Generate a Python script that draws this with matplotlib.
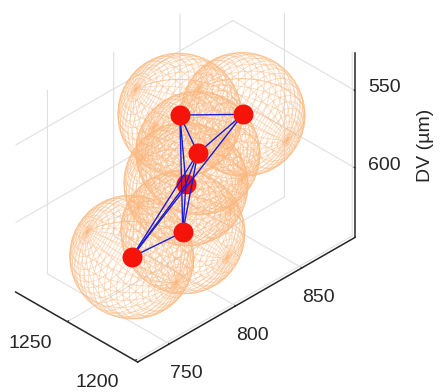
import numpy as np
import matplotlib
matplotlib.use("Agg")
import matplotlib.pyplot as plt

plt.rcParams["font.family"] = ["Liberation Sans", "DejaVu Sans"]

# centres of the spheres, um
x_pos = [1255, 1240, 1245, 1240, 1230, 1245]
y_pos = [816.2, 848.4, 819.5, 805.4, 792.8, 769.6]
z_pos = [558.3, 566.1, 579.5, 590.1, 609.9, 622.2]
radius = 32.8

# which points are joined
links = [(0, 1), (0, 2), (0, 3), (0, 4), (1, 2), (1, 5),
         (2, 3), (2, 4), (2, 5), (3, 4), (3, 5), (4, 5)]

x_ticks = [1200, 1250]
y_ticks = [750, 800, 850]
z_ticks = [550, 600]

fig = plt.figure(figsize=(4.41, 3.92), dpi=100)
ax = fig.add_axes([-16 / 441, 18 / 392, 392 / 441, 1], projection="3d", computed_zorder=False)
ax.set_proj_type("ortho")
ax.set_xlim(1288, 1198)
ax.set_ylim(726, 890)
ax.set_zlim(645, 526)
ax.set_box_aspect((172.5, 307, 224.6), zoom=1.035)
ax.view_init(elev=35, azim=-45)

# wire spheres, poles along x
phi = np.linspace(0, np.pi, 31)
theta = np.linspace(0, 2 * np.pi, 31)
phi, theta = np.meshgrid(phi, theta)
for cx, cy, cz in zip(x_pos, y_pos, z_pos):
    sx = cx + radius * np.cos(phi)
    sy = cy + radius * np.sin(phi) * np.cos(theta)
    sz = cz + radius * np.sin(phi) * np.sin(theta)
    ax.plot_wireframe(sx, sy, sz, color="#fbb77c", linewidth=0.6, alpha=0.5, zorder=2)

# one dot sits under the lines
ax.scatter([x_pos[3]], [y_pos[3]], [z_pos[3]], s=207, color="#f5140a", depthshade=False,
           linewidths=0, zorder=3)
for a, b in links:
    ax.plot([x_pos[a], x_pos[b]], [y_pos[a], y_pos[b]], [z_pos[a], z_pos[b]],
            color="#1a1ad8", linewidth=1.0, zorder=4)
others = [0, 1, 2, 4, 5]
ax.scatter([x_pos[i] for i in others], [y_pos[i] for i in others], [z_pos[i] for i in others],
           s=207, color="#f5140a", depthshade=False, linewidths=0, zorder=5)

ax.set_xticks(x_ticks)
ax.set_yticks(y_ticks)
ax.set_zticks(z_ticks)

for axis in [ax.xaxis, ax.yaxis, ax.zaxis]:
    axis.set_pane_color((1, 1, 1, 0))
    axis.pane.set_edgecolor((1, 1, 1, 0))
    axis.line.set_color("#262626")
    axis.line.set_linewidth(1.1)
    axis._axinfo["grid"]["color"] = "#e0e0e0"
    axis._axinfo["grid"]["linewidth"] = 0.8
    axis._axinfo["tick"]["inward_factor"] = 0.0
    axis._axinfo["tick"]["outward_factor"] = 0.08
ax.tick_params(labelsize=14, labelcolor="#262626", color="#262626", width=0.8)
ax.tick_params(axis="x", pad=2.5)
ax.tick_params(axis="y", pad=12)
ax.tick_params(axis="z", pad=4.8)
plt.setp(ax.get_xticklabels(), ha="right", va="center")
plt.setp(ax.get_yticklabels(), va="baseline")
plt.setp(ax.get_zticklabels(), va="center_baseline")

fig.text(425 / 441, 1 - 145 / 392, "DV (µm)", fontsize=14, color="#262626", rotation=90,
         ha="center", va="center")

fig.savefig("out.png", dpi=100)
